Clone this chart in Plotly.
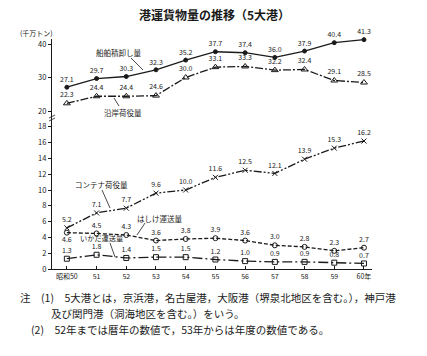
import plotly.graph_objects as go

years = [50, 51, 52, 53, 54, 55, 56, 57, 58, 59, 60]
year_labels = ["昭和50", "51", "52", "53", "54", "55", "56", "57", "58", "59", "60年"]

ship = [27.1, 29.7, 30.3, 32.3, 35.2, 37.7, 37.4, 36.0, 37.9, 40.4, 41.3]
coastal = [22.3, 24.4, 24.4, 24.6, 30.0, 33.1, 33.3, 32.2, 32.4, 29.1, 28.5]
container = [5.2, 7.1, 7.7, 9.6, 10.0, 11.6, 12.5, 12.1, 13.9, 15.3, 16.2]
lighter = [4.6, 4.5, 4.3, 3.6, 3.8, 3.9, 3.6, 3.0, 2.8, 2.3, 2.7]
raft = [1.3, 1.8, 1.4, 1.5, 1.5, 1.2, 1.0, 0.9, 0.9, 0.8, 0.7]

FONT = "Noto Sans CJK JP"
INK = "#1a1a1a"

W, H = 427, 356
ml, mr, mt, mb = 52, 55, 39, 87
pw, ph = W - ml - mr, H - mt - mb


def px(xp):
    return (xp - ml) / pw


def py(yp):
    return (H - mb - yp) / ph


fig = go.Figure()


def add(vals, yaxis, dash, symbol, msize, positions=None):
    fig.add_trace(go.Scatter(
        x=years, y=vals, yaxis=yaxis,
        mode="lines+markers+text",
        text=[f"{v:.1f}" for v in vals],
        textposition=positions or "top center",
        textfont=dict(family=FONT, size=7, color=INK),
        line=dict(color=INK, width=1.3, dash=dash),
        marker=dict(symbol=symbol, size=msize, color=INK,
                    line=dict(color=INK, width=1)),
        showlegend=False, cliponaxis=False, hoverinfo="skip",
    ))


add(ship, "y2", "solid", "circle", 4)
add(coastal, "y2", "8px,2px,2px,2px", "triangle-up-open", 6)
add(container, "y", "8px,2px,2px,2px,2px,2px", "x-thin-open", 5)
add(lighter, "y", "4px,2px", "circle-open", 5,
    ["bottom center"] + ["top center"] * 10)
add(raft, "y", "10px,3px,2px,3px", "square-open", 5)

ann = []
shapes = []


def text(xp, yp, s, size, anchor="center", bold=False):
    ann.append(dict(x=px(xp), y=py(yp), xref="paper", yref="paper",
                    text=f"<b>{s}</b>" if bold else s, showarrow=False,
                    xanchor=anchor, yanchor="middle",
                    font=dict(family=FONT, size=size, color=INK)))


def leader(x0, y0, x1, y1):
    shapes.append(dict(type="line", xref="paper", yref="paper",
                       x0=px(x0), y0=py(y0), x1=px(x1), y1=py(y1),
                       line=dict(color=INK, width=0.8)))


# series labels with leader lines
text(119, 52, "船舶積卸し量", 7.5)
leader(131, 58, 143, 70)
text(123, 112, "沿岸荷役量", 7.5)
leader(114, 98, 119, 106)
text(101, 184, "コンテナ荷役量", 7.5)
leader(102, 190, 110, 208)
text(160, 218, "はしけ運送量", 7.5)
leader(145, 223, 137, 235)
text(101, 238, "いかだ運送量", 7.2)
leader(110, 243, 115, 257)

# title, unit, notes
text(214, 15, "港運貨物量の推移（5大港）", 12, bold=True)
text(36, 33, "(千万トン)", 7)
text(18, 297, "注　(1)　5大港とは，京浜港，名古屋港，大阪港（堺泉北地区を含む。），神戸港", 10.5, "left")
text(49, 313, "及び関門港（洞海地区を含む。）をいう。", 10.5, "left")
text(29, 329, "(2)　52年までは暦年の数値で，53年からは年度の数値である。", 10.5, "left")

# axis break marker
for dy in (-1.5, 1.5):
    leader(49, 118 + dy + 1.5, 55, 118 + dy - 1.5)

split = (269 - 111) / ph

fig.update_layout(
    width=W, height=H,
    margin=dict(l=ml, r=mr, t=mt, b=mb),
    paper_bgcolor="white", plot_bgcolor="white",
    hovermode=False,
    annotations=ann, shapes=shapes,
    xaxis=dict(range=[49.5, 60.27], tickvals=years, ticktext=year_labels,
               ticks="inside", ticklen=3, tickcolor=INK, showgrid=False, zeroline=False,
               showline=True, linecolor=INK, linewidth=1.2,
               tickfont=dict(family=FONT, size=7, color=INK)),
    yaxis=dict(domain=[0, split], range=[0, 20], tickvals=list(range(0, 20, 2)),
               ticks="outside", ticklen=3, tickcolor=INK, showgrid=False, zeroline=False,
               showline=True, linecolor=INK, linewidth=1.2,
               tickfont=dict(family=FONT, size=7.5, color=INK)),
    yaxis2=dict(domain=[split, 1], range=[20, 41.5], tickvals=[20, 30, 40],
                ticks="outside", ticklen=3, tickcolor=INK, showgrid=False, zeroline=False,
                showline=True, linecolor=INK, linewidth=1.2, anchor="x",
                tickfont=dict(family=FONT, size=7.5, color=INK)),
)

fig.write_html("out.html", config={"displayModeBar": False, "staticPlot": True},
               post_script="document.body.style.margin='0';document.body.style.overflow='hidden';")
